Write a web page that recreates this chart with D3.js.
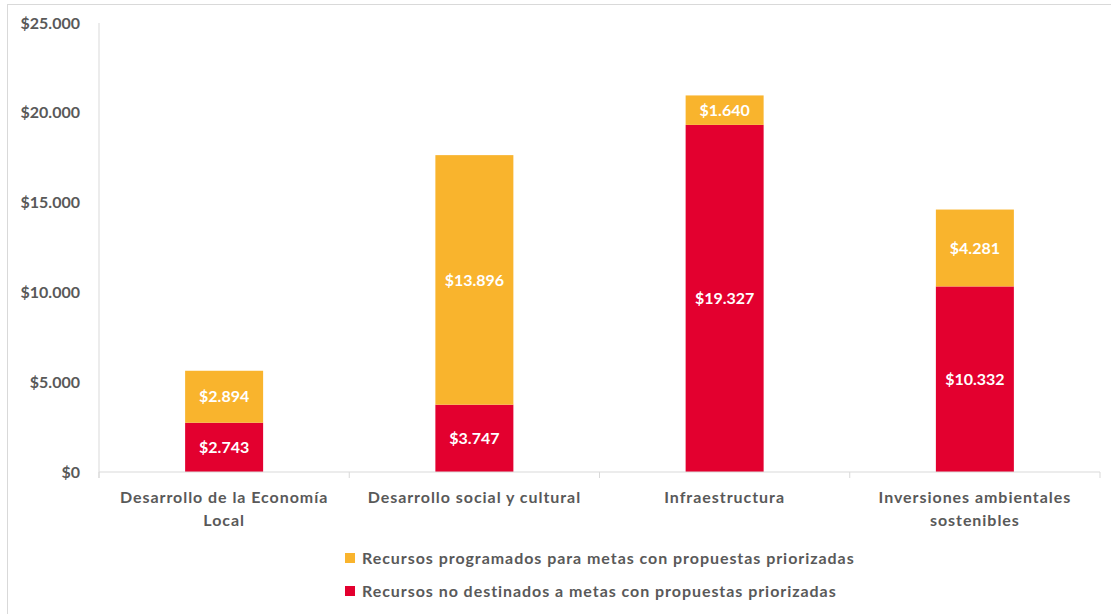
<!DOCTYPE html>
<html>
<head>
<meta charset="utf-8">
<script src="https://cdn.jsdelivr.net/npm/d3@7"></script>
<style>
  body { margin: 0; background: #fff; }
  text { font-family: Lato, "Open Sans", sans-serif; font-weight: bold; }
</style>
</head>
<body>
<div id="chart"></div>
<script>
// data
var categories = ["Desarrollo de la Economía Local", "Desarrollo social y cultural", "Infraestructura", "Inversiones ambientales sostenibles"];
var noDestinados = [2743, 3747, 19327, 10332];
var programados = [2894, 13896, 1640, 4281];
var yTicks = [0, 5000, 10000, 15000, 20000, 25000];
var seriesNames = ["Recursos programados para metas con propuestas priorizadas", "Recursos no destinados a metas con propuestas priorizadas"];

function init() {
    var w = 1111, h = 614;
    var left = 99, right = 1100, top = 23, bottom = 472;

    var red = "#e3002f", yellow = "#f9b42d", grey = "#595959", line = "#d9d9d9";

    var locale = d3.formatLocale({ decimal: ",", thousands: ".", grouping: [3], currency: ["$", ""] });
    var fmt = locale.format("$,.0f");

    var dataset = categories.map(function (c, i) {
        return { cat: c, noDest: noDestinados[i], prog: programados[i] };
    });

    var series = d3.stack().keys(["noDest", "prog"])(dataset);

    var xScale = d3.scaleBand()
        .domain(categories)
        .range([left, right]);

    var yScale = d3.scaleLinear()
        .domain([0, 25000])
        .range([bottom, top]);

    var svg = d3.select("#chart").append("svg")
        .attr("width", w)
        .attr("height", h);

    // chart frame
    svg.append("rect")
        .attr("x", 7.5).attr("y", 4.5)
        .attr("width", w + 20).attr("height", h + 20)
        .attr("fill", "none")
        .attr("stroke", line);

    var barW = 78;
    var colors = { noDest: red, prog: yellow };

    var groups = svg.selectAll("g.series")
        .data(series)
        .enter()
        .append("g")
        .attr("class", "series")
        .style("fill", function (d) { return colors[d.key]; });

    groups.selectAll("rect")
        .data(function (d) { return d; })
        .enter()
        .append("rect")
        .attr("x", function (d) { return xScale(d.data.cat) + xScale.bandwidth() / 2 - barW / 2; })
        .attr("y", function (d) { return yScale(d[1]); })
        .attr("width", barW)
        .attr("height", function (d) { return yScale(d[0]) - yScale(d[1]); });

    // data labels
    groups.selectAll("text")
        .data(function (d) { return d; })
        .enter()
        .append("text")
        .attr("x", function (d) { return xScale(d.data.cat) + xScale.bandwidth() / 2; })
        .attr("y", function (d) { return (yScale(d[0]) + yScale(d[1])) / 2; })
        .attr("dy", "0.35em")
        .attr("text-anchor", "middle")
        .attr("fill", "#fff")
        .style("font-size", "16px")
        .text(function (d) { return fmt(d[1] - d[0]); });

    // x axis
    var xAxis = svg.append("g").attr("transform", "translate(0," + bottom + ")");
    xAxis.append("line")
        .attr("x1", left).attr("x2", right)
        .attr("stroke", line);
    var bounds = categories.map(function (c) { return xScale(c); }).concat([right]);
    xAxis.selectAll("line.tick")
        .data(bounds)
        .enter()
        .append("line")
        .attr("class", "tick")
        .attr("x1", function (d) { return d; }).attr("x2", function (d) { return d; })
        .attr("y1", 0).attr("y2", 6)
        .attr("stroke", line);

    xAxis.selectAll("text")
        .data(categories)
        .enter()
        .append("text")
        .attr("x", function (d) { return xScale(d) + xScale.bandwidth() / 2; })
        .attr("y", 31)
        .attr("text-anchor", "middle")
        .attr("fill", grey)
        .style("font-size", "16px")
        .style("letter-spacing", "0.95px")
        .text(function (d) { return d; })
        .call(wrap, 235);

    // y axis
    var yAxis = d3.axisLeft(yScale)
        .tickValues(yTicks)
        .tickSize(0)
        .tickPadding(19)
        .tickFormat(fmt);

    var yg = svg.append("g")
        .attr("transform", "translate(" + left + ",0)")
        .call(yAxis);
    yg.select(".domain").remove();
    yg.append("line")
        .attr("y1", top).attr("y2", bottom + 6)
        .attr("stroke", line);
    yg.selectAll("text")
        .attr("fill", grey)
        .style("font-size", "16px")
        .style("font-family", "Lato, sans-serif");

    // legend
    var legend = svg.selectAll("g.legend")
        .data([yellow, red])
        .enter()
        .append("g")
        .attr("class", "legend")
        .attr("transform", function (d, i) { return "translate(345," + (558 + i * 33) + ")"; });
    legend.append("rect")
        .attr("x", 0).attr("y", -5)
        .attr("width", 10).attr("height", 10)
        .attr("fill", function (d) { return d; });
    legend.append("text")
        .attr("x", 17)
        .attr("dy", "0.35em")
        .attr("fill", grey)
        .style("font-size", "16px")
        .style("letter-spacing", "0.95px")
        .text(function (d, i) { return seriesNames[i]; });
}

function wrap(text, width) {
    text.each(function () {
        var t = d3.select(this);
        var words = t.text().split(/\s+/);
        var x = t.attr("x"), y = t.attr("y");
        var line = [];
        var lineNo = 0;
        var tspan = t.text(null).append("tspan").attr("x", x).attr("y", y);
        words.forEach(function (word) {
            line.push(word);
            tspan.text(line.join(" "));
            if (tspan.node().getComputedTextLength() > width && line.length > 1) {
                line.pop();
                tspan.text(line.join(" "));
                line = [word];
                lineNo++;
                tspan = t.append("tspan").attr("x", x).attr("y", +y + lineNo * 23).text(word);
            }
        });
    });
}

window.onload = init;
</script>
</body>
</html>
